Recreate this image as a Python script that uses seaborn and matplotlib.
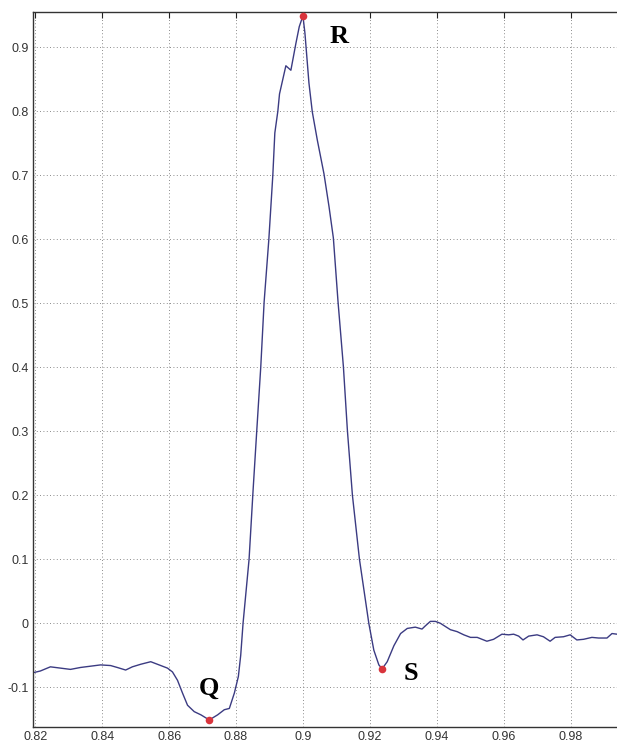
import numpy as np
import pandas as pd
import matplotlib
matplotlib.use("Agg")
import matplotlib.pyplot as plt
from matplotlib.ticker import FuncFormatter
import seaborn as sns

# ECG beat (QRS complex)
time_s = [
    0.8195, 0.8215, 0.8245, 0.8275, 0.8305, 0.8335, 0.8365, 0.8395, 0.8425, 0.8445,
    0.8470, 0.8490, 0.8515, 0.8545, 0.8570, 0.8595, 0.8610, 0.8625, 0.8640, 0.8655,
    0.8675, 0.8695, 0.8720, 0.8745, 0.8765, 0.8780, 0.8795, 0.8807, 0.8814, 0.8821,
    0.8839, 0.8851, 0.8862, 0.8874, 0.8884, 0.8898, 0.8910, 0.8916, 0.8925, 0.8930,
    0.8949, 0.8964, 0.8979, 0.8989, 0.9000, 0.9006, 0.9018, 0.9028, 0.9043, 0.9063,
    0.9078, 0.9091, 0.9105, 0.9121, 0.9133, 0.9148, 0.9169, 0.9197, 0.9212, 0.9227,
    0.9237, 0.9252, 0.9272, 0.9292, 0.9312, 0.9336, 0.9356, 0.9366, 0.9381, 0.9396,
    0.9411, 0.9426, 0.9441, 0.9461, 0.9481, 0.9501, 0.9521, 0.9550, 0.9570, 0.9595,
    0.9615, 0.9630, 0.9645, 0.9658, 0.9675, 0.9700, 0.9719, 0.9739, 0.9754, 0.9779,
    0.9799, 0.9819, 0.9839, 0.9864, 0.9884, 0.9909, 0.9924, 0.9939,
]
amplitude = [
    -0.077, -0.0745, -0.068, -0.070, -0.072, -0.069, -0.067, -0.065, -0.066, -0.069,
    -0.073, -0.068, -0.064, -0.060, -0.065, -0.070, -0.076, -0.089, -0.109, -0.128,
    -0.138, -0.143, -0.151, -0.143, -0.135, -0.133, -0.109, -0.083, -0.050, 0.000,
    0.100, 0.208, 0.301, 0.401, 0.502, 0.599, 0.700, 0.766, 0.800, 0.827,
    0.871, 0.864, 0.906, 0.932, 0.949, 0.922, 0.844, 0.799, 0.755, 0.702,
    0.651, 0.602, 0.502, 0.401, 0.301, 0.200, 0.100, 0.000, -0.042, -0.065,
    -0.071, -0.060, -0.035, -0.016, -0.008, -0.006, -0.009, -0.004, 0.003, 0.003,
    0.000, -0.005, -0.010, -0.013, -0.018, -0.022, -0.022, -0.028, -0.025, -0.017,
    -0.018, -0.017, -0.020, -0.026, -0.020, -0.018, -0.021, -0.028, -0.022, -0.021,
    -0.018, -0.026, -0.025, -0.022, -0.023, -0.023, -0.016, -0.017,
]

# detected Q, R, S fiducial points
peak_names = ["Q", "R", "S"]
peak_time = [0.8720, 0.9000, 0.9237]
peak_amp = [-0.151, 0.948, -0.071]
label_time = [0.8718, 0.9109, 0.9322]
label_amp = [-0.102, 0.917, -0.079]

x_ticks = [0.82, 0.84, 0.86, 0.88, 0.90, 0.92, 0.94, 0.96, 0.98]
y_ticks = [-0.1, 0.0, 0.1, 0.2, 0.3, 0.4, 0.5, 0.6, 0.7, 0.8, 0.9]

sns.set_style("white")
plt.rcParams["font.family"] = ["Liberation Sans", "DejaVu Sans"]
plt.rcParams["axes.unicode_minus"] = False

ecg = pd.DataFrame({"t": time_s, "v": amplitude})
peaks = pd.DataFrame({"t": peak_time, "v": peak_amp, "name": peak_names})

fig = plt.figure(figsize=(6.17, 7.45), dpi=100)
ax = fig.add_axes([33 / 617, 18 / 745, 1 - 33 / 617, 715 / 745])

sns.lineplot(data=ecg, x="t", y="v", ax=ax, color="#3b3b82", lw=1.0,
             sort=False, estimator=None)
sns.scatterplot(data=peaks, x="t", y="v", ax=ax, color="#d9343c",
                s=30, linewidth=0, zorder=5)

for name, tx, ty in zip(peak_names, label_time, label_amp):
    ax.text(tx, ty, name, fontsize=19, fontweight="bold",
            family=["Liberation Serif", "DejaVu Serif"],
            ha="center", va="center", color="black")

ax.set_xlim(0.8193, 0.9939)
ax.set_ylim(-0.162, 0.955)
ax.set_xticks(x_ticks)
ax.set_yticks(y_ticks)
fmt = FuncFormatter(lambda v, _: f"{v:g}" if abs(v) > 1e-9 else "0")
ax.xaxis.set_major_formatter(fmt)
ax.yaxis.set_major_formatter(fmt)

ax.grid(True, ls=(0, (1, 3)), color="#666666", lw=0.6)
ax.tick_params(direction="in", length=4, width=0.8, color="#222222",
               labelsize=9, labelcolor="#333333", top=True, pad=3)
ax.set_xlabel("")
ax.set_ylabel("")

for side in ("left", "top", "bottom"):
    ax.spines[side].set_color("#333333")
    ax.spines[side].set_linewidth(1.0)
ax.spines["right"].set_visible(False)

fig.savefig("out.png", dpi=100)
